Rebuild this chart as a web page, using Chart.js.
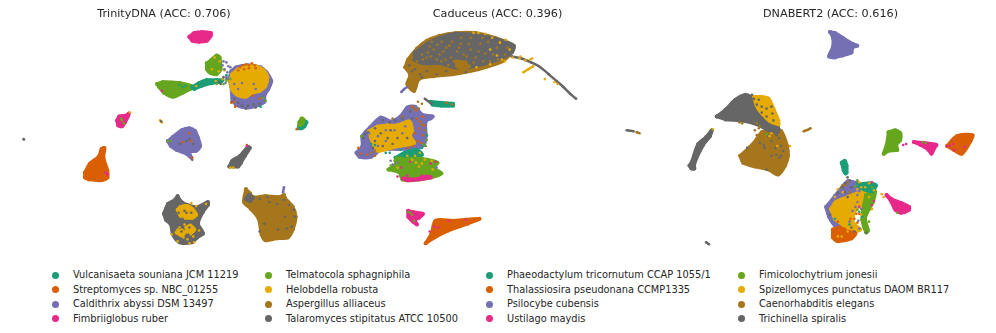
<!DOCTYPE html>
<html>
<head>
<meta charset="utf-8">
<script src="https://cdn.jsdelivr.net/npm/chart.js@4"></script>
<style>
html, body { margin: 0; padding: 0; background: #fff; }
body { position: relative; width: 996px; height: 333px; overflow: hidden; font-family: "DejaVu Sans", sans-serif; }
.panel { position: absolute; top: 0; height: 265px; }
.key { position: absolute; font-size: 9.8px; line-height: 14px; color: #262626; white-space: nowrap; }
.key i { position: absolute; width: 7px; height: 7px; border-radius: 50%; }
</style>
</head>
<body>
<div class="panel" style="left:0;width:328px"><canvas id="trinity"></canvas></div>
<div class="panel" style="left:332px;width:331px"><canvas id="caduceus"></canvas></div>
<div class="panel" style="left:665px;width:331px"><canvas id="dnabert"></canvas></div>
<div id="legend"></div>
<script>
const speciesNames = [
    "Vulcanisaeta souniana JCM 11219", "Streptomyces sp. NBC_01255", "Caldithrix abyssi DSM 13497", "Fimbriiglobus ruber",
    "Telmatocola sphagniphila", "Helobdella robusta", "Aspergillus alliaceus", "Talaromyces stipitatus ATCC 10500",
    "Phaeodactylum tricornutum CCAP 1055/1", "Thalassiosira pseudonana CCMP1335", "Psilocybe cubensis", "Ustilago maydis",
    "Fimicolochytrium jonesii", "Spizellomyces punctatus DAOM BR117", "Caenorhabditis elegans", "Trichinella spiralis"
];
const dark2 = ["#1b9e77", "#d95f02", "#7570b3", "#e7298a", "#66a61e", "#e6ab02", "#a6761d", "#666666"];
const TEAL = 0, ORANGE = 1, PURPLE = 2, PINK = 3, GREEN = 4, YELLOW = 5, BROWN = 6, GREY = 7;

// TrinityDNA: cluster outlines
const tPinkTop = [[190,37],[195,33],[203,32],[212,33],[212,36],[208,41],[200,42],[193,41]];
const tGreenUpper = [[208,64],[213,60],[218,56],[221,58],[222,66],[222,70],[218,75],[212,74],[208,70]];
const tGreenLeft = [[157,85],[163,83],[180,84],[192,87],[191,90],[183,94],[173,98],[164,94],[159,88]];
const tTealStrip = [[193,88],[200,84],[208,81],[218,81],[224,81],[222,83],[213,84],[202,87],[195,90]];
const tPurpleBig = [[233,72],[238,68],[250,66],[263,68],[269,73],[274,82],[271,90],[267,97],[267,103],[262,106],[250,109],[238,106],[234,100],[233,88],[231,80]];
const tYellowBig = [[234,75],[240,70],[250,67],[258,67],[266,71],[270,78],[268,87],[262,92],[254,94],[248,98],[239,96],[234,91],[232,82]];
const tPinkMid = [[116,122],[118,118],[125,117],[128,115],[127,118],[124,124],[121,128],[117,127]];
const tPurpleMid = [[168,143],[173,139],[182,132],[190,130],[196,133],[199,140],[201,148],[197,153],[190,154],[192,160],[187,156],[177,152],[171,148]];
const tTealRight = [[303,124],[305,122],[307,122],[310,124],[308,128],[305,130],[302,130]];
const tGreenRight = [[303,124],[305,120],[307,121],[306,125],[303,127]];
const tGreySmall = [[231,169],[234,163],[242,158],[250,149],[252,150],[247,158],[243,165],[240,169],[235,169]];
const tOrange = [[83,175],[88,166],[97,159],[100,151],[103,150],[102,160],[106,173],[106,180],[100,183],[87,182],[83,180]];
const tGreyBottom = [[164,217],[168,207],[175,203],[178,199],[181,204],[188,208],[198,210],[209,205],[209,208],[204,215],[199,227],[204,237],[198,241],[193,246],[180,246],[173,238],[171,228],[166,223]];
const tYellowUpper = [[178,213],[181,210],[188,209],[193,212],[197,218],[193,221],[186,221],[181,219]];
const tYellowLowerA = [[177,236],[182,234],[185,236],[182,239]];
const tYellowLowerB = [[187,231],[191,229],[195,233],[191,237],[188,235]];
const tBrown = [[248,192],[252,196],[255,200],[268,199],[282,200],[287,198],[288,201],[296,210],[299,220],[296,233],[291,241],[280,242],[268,244],[264,238],[261,222],[253,212],[246,205]];
const tGreyPatch = [[248,202],[251,198],[255,201],[252,204]];
const tPurpleTip = [[286,195],[287,190]];

const tOrangeDots = [[242,68],[245,66],[248,65],[251,66],[254,64],[257,66],[258,69],[251,69],[246,70],[240,71],[236,103],[255,97],[233,104],[262,100],[237,108],[190,135],[183,144],[192,143],[193,160],[300,131],[249,147]];
const tPurpleDots = [[225,62],[228,63],[230,67],[226,70],[224,66],[232,68],[229,73],[244,84],[256,85],[240,90],[236,85],[258,90],[228,78],[227,84]];
const tGreyDots = [[240,104],[244,107],[250,107],[256,106],[262,105],[265,98],[236,100],[233,103],[258,109],[248,110],[228,80],[225,78],[221,83],[222,85],[187,143],[190,141],[194,146],[180,146],[193,162],[187,216],[189,238],[190,231],[182,235],[183,222],[262,202],[270,200],[272,205],[280,207],[287,203],[292,208],[297,213],[298,220],[288,220],[267,227],[281,233],[290,232],[295,230],[262,235],[20,141],[20.5,141.5],[161,123],[185,214],[192,216],[179,216]];
const tGreenDots = [[265,99],[268,102],[232,80],[228,82],[225,85],[218,85],[121,122],[123,125],[120,120],[168,143],[171,143]];
const tTealDots = [[263,108],[180,86],[183,88],[186,87],[213,85],[228,76]];
const tYellowDots = [[216,58],[213,70],[220,72],[221,62],[226,71],[224,80],[217,82],[197,87],[129,114],[232,170],[235,170],[172,238],[178,245],[195,246],[190,247],[207,207],[160,122],[162,124],[192,206],[197,209],[185,228],[180,231],[184,241],[188,243],[178,233],[194,240],[200,234]];
const tPinkDots = [[105,176],[106,177],[104,175],[162,92],[249,148]];

// Caduceus
const cBrownBig = [[403,68],[406,60],[415,49],[425,41],[438,36],[455,33],[475,33],[495,38],[514,46],[512,53],[502,62],[478,70],[452,75],[432,77],[417,80],[412,92],[405,85],[408,76]];
const cGreyBig = [[413,53],[427,43],[438,38],[455,34],[475,35],[495,39],[514,46],[512,53],[498,60],[482,65],[458,69],[438,64],[422,64],[412,60]];
const cBrownPatchB = [[455,62],[462,63],[468,67],[458,69]];
const cGreyTail = [[512,57],[522,59],[532,63],[540,67],[550,75],[558,82],[565,88],[572,95],[578,100]];
const cYellowBranch = [[524,73],[529,70],[534,67]];
const cPurpleTip = [[399,93],[402,90],[405,88]];
const cTealStrip = [[429,103],[440,104],[452,105],[452,107],[440,107],[431,106]];
const cGreyStub = [[423,100],[430,105]];
const cPurpleMid = [[353,155],[359,148],[359,138],[367,129],[378,119],[388,123],[398,118],[405,109],[413,108],[420,116],[431,118],[429,120],[424,123],[424,138],[422,147],[412,151],[395,151],[378,152],[368,159],[356,159]];
const cYellowMid = [[366,133],[375,128],[385,127],[395,127],[407,123],[410,132],[408,138],[412,145],[398,148],[388,150],[375,153],[370,145],[368,140]];
const cTealMid = [[393,160],[402,155],[415,152],[420,157],[408,160],[395,163]];
const cGreenMid = [[386,172],[393,167],[394,161],[405,161],[420,161],[436,165],[432,170],[440,176],[430,180],[412,183],[400,182],[397,175]];
const cPinkEdge = [[401,181],[412,182],[425,179],[429,180],[417,182],[405,183]];
const cPinkLow = [[406,214],[410,215],[421,217],[417,221],[413,223],[415,228],[411,225],[406,220]];
const cOrangeLow = [[424,247],[430,237],[434,224],[453,224],[479,222],[467,227],[447,234],[433,241]];
const cGreyFar = [[630,132],[637,133]];
const cBrownFar = [[640,134],[643,135]];

const cBrownDots = [[420,55],[425,58],[432,50],[438,55],[445,48],[450,58],[456,52],[460,44],[465,62],[470,50],[475,58],[480,44],[485,54],[490,62],[497,48],[505,55],[500,42],[470,38],[440,62],[447,66],[455,67],[462,68],[430,42],[440,42],[415,62],[410,58],[418,68],[412,110],[417,110],[420,126],[423,132],[400,118],[368,155],[372,153],[390,120],[420,105],[416,103],[451,106],[426,53],[429,57],[435,60],[442,52],[448,46],[453,62],[458,48],[463,55],[468,44],[473,63],[478,52],[483,62],[488,42],[493,55],[498,60],[508,48],[428,47],[421,60],[436,45],[451,42],[444,60],[466,57],[482,38],[460,38]];
const cGreyDots = [[425,72],[435,75],[413,70],[418,75],[445,72],[465,73],[410,72],[407,66],[420,78],[380,122],[387,124],[372,130],[365,134],[360,140],[393,122],[400,120],[385,140],[378,135],[395,140],[370,150],[380,148],[390,146],[405,140],[388,132],[372,143],[410,120],[408,113],[362,136]];
const cYellowDots = [[473,33],[478,33],[485,34],[492,38],[500,43],[506,40],[510,50],[502,60],[497,56],[505,62],[490,50],[513,58],[520,59],[526,61],[531,60],[521,57],[533,59],[546,80],[556,83],[559,85],[476,68],[490,65],[414,165],[420,166],[417,169],[410,162],[431,172],[413,158],[405,158],[418,155],[423,162],[395,170],[430,163]];
const cOrangeDots = [[415,120],[418,123],[421,118],[422,127],[417,130],[421,137],[413,135],[416,143],[411,148],[406,150],[419,145],[357,156],[364,157],[372,158],[410,108],[414,112],[355,150],[445,104]];
const cTealDots = [[425,137],[422,147],[420,150],[400,156],[398,152],[383,155],[387,155],[403,159],[412,155],[372,147],[368,146]];
const cGreenDots = [[358,138],[425,142],[422,146],[424,148],[385,172],[388,168],[392,163],[408,216],[406,215],[410,218],[412,224]];
const cPurpleDots = [[375,138],[383,143],[392,132],[400,135],[383,132],[403,128],[375,148],[366,135],[388,163],[390,167],[395,165],[435,170]];
const cPinkDots = [[434,164],[429,166],[405,178],[408,164],[399,170],[395,179],[420,178],[433,230],[428,235],[437,231],[447,224],[465,223]];

// DNABERT2
const dPurpleTop = [[830,32],[835,33],[843,38],[853,44],[858,46],[853,48],[852,53],[843,56],[835,58],[829,57],[833,47],[833,38]];
const dBrown = [[738,158],[748,149],[755,141],[760,134],[772,132],[780,133],[786,148],[787,158],[784,168],[777,177],[767,172],[753,169],[741,165]];
const dYellow = [[747,98],[760,98],[767,100],[772,110],[777,122],[777,127],[770,130],[760,120],[752,110]];
const dGrey = [[714,118],[723,111],[733,101],[743,96],[748,98],[752,110],[760,120],[768,127],[777,130],[776,134],[767,132],[755,126],[738,122],[723,121]];
const dGreyThin = [[686,168],[688,165],[695,146],[703,139],[708,133],[709,132],[707,138],[700,147],[691,166],[691,171],[688,171]];
const dBrownStub = [[803,133],[806,132],[810,130]];
const dGreyTiny = [[703,246],[706,248]];
const dGreenBlob = [[890,134],[897,132],[902,135],[902,142],[898,147],[899,152],[890,153],[885,156],[888,147]];
const dPinkMid = [[916,144],[927,145],[939,147],[937,150],[934,156],[931,152],[923,147]];
const dOrangeRight = [[950,148],[960,138],[976,137],[974,143],[965,156],[957,152]];
const dTealTop = [[842,165],[845,163],[847,168],[847,175],[846,176],[844,173]];
const dPurpleLow = [[826,210],[835,199],[843,189],[848,184],[858,186],[866,190],[866,195],[855,205],[850,222],[855,232],[845,234],[835,229],[829,220]];
const dYellowLow = [[831,212],[836,205],[848,200],[867,193],[869,197],[863,207],[857,212],[853,222],[855,228],[861,233],[852,235],[843,228],[835,222]];
const dGreenStrip = [[867,198],[876,194],[874,205],[870,212],[866,222],[869,234],[867,236],[863,223],[864,212]];
const dTealPatch = [[859,187],[870,186],[877,188],[873,194],[862,191]];
const dPinkLow = [[888,198],[893,202],[903,206],[911,210],[911,213],[903,216],[897,213],[893,205]];
const dOrangeLow = [[833,233],[840,231],[845,234],[856,237],[852,242],[838,245],[833,241]];

const dGreyDots = [[745,97],[750,96],[752,100],[757,101],[760,108],[765,110],[771,115],[760,114],[765,118],[772,122],[755,106],[748,103],[770,108],[767,138],[770,143],[775,137],[778,140],[780,148],[774,150],[758,145],[762,147],[770,158],[775,157],[778,160],[780,158],[763,150],[745,150],[765,172],[782,153],[848,180],[846,186],[850,183],[843,190],[852,190],[848,200],[838,196],[845,195],[830,218],[855,235],[867,236],[852,231]];
const dBrownDots = [[737,124],[740,125],[755,125],[758,128],[753,132],[757,130],[755,137],[752,145],[848,185],[846,188],[843,188],[842,190],[850,195]];
const dYellowDots = [[770,135],[768,138],[776,148],[789,148],[710,131],[838,192],[843,195],[835,200],[838,208],[862,190],[860,185],[870,186],[875,193],[883,197],[885,200],[873,212],[866,190],[858,192],[856,204],[870,200],[862,218],[838,240],[842,240],[848,235]];
const dTealDots = [[858,186],[862,188],[866,186],[869,190],[872,188],[860,215],[863,220],[850,228],[835,222]];
const dGreenDots = [[765,136],[856,189],[858,183],[858,213],[873,190],[870,225],[899,216],[925,144],[928,145]];
const dOrangeDots = [[857,217],[860,217],[855,222],[858,226],[851,222],[845,232],[838,225]];
const dPurpleDots = [[856,210],[859,224],[862,212],[858,205],[860,232],[850,225],[853,214],[860,194],[858,198]];
const dPinkDots = [[873,185],[875,204],[873,208],[860,210],[905,147],[908,146],[950,148],[953,148],[956,146],[968,149],[957,152]];

function toXY(list) {
    return list.map(p => ({ x: p[0], y: p[1] }));
}

// closed filled cluster
function blob(color, list) {
    return {
        data: toXY(list.concat([list[0]])), showLine: true, fill: "shape", tension: 0.3,
        borderColor: dark2[color], backgroundColor: dark2[color], borderWidth: 3.5, borderJoinStyle: "round",
        pointRadius: 2, pointBackgroundColor: dark2[color], pointBorderWidth: 0, clip: false
    };
}

function streak(color, list) {
    return {
        data: toXY(list), showLine: true, fill: false, tension: 0.25,
        borderColor: dark2[color], backgroundColor: dark2[color], borderWidth: 2.5,
        pointRadius: 1.3, pointBackgroundColor: dark2[color], pointBorderWidth: 0, clip: false
    };
}

function dots(color, list) {
    return {
        data: toXY(list), showLine: false,
        pointRadius: 1.3, pointBackgroundColor: dark2[color], pointBorderWidth: 0, clip: false
    };
}

function drawPanel(id, title, left, width, sets) {
    // Chart.js paints the first dataset last, so flip to keep the listed stacking
    new Chart(document.getElementById(id), {
        type: "scatter",
        data: { datasets: sets.slice().reverse() },
        options: {
            responsive: true,
            maintainAspectRatio: false,
            animation: false,
            events: [],
            layout: { padding: 0 },
            plugins: {
                legend: { display: false },
                tooltip: { enabled: false },
                title: {
                    display: true, text: title, color: "#262626",
                    font: { family: "DejaVu Sans", size: 11.2, weight: "normal", lineHeight: 1.25 },
                    padding: { top: 7, bottom: 5 }
                }
            },
            scales: {
                x: { type: "linear", display: false, min: left, max: left + width },
                y: { type: "linear", display: false, reverse: true, min: 26, max: 265 }
            }
        }
    });
}

drawPanel("trinity", "TrinityDNA (ACC: 0.706)", 0, 328, [
    blob(PINK, tPinkTop), blob(PURPLE, tPurpleBig), blob(YELLOW, tYellowBig), blob(GREEN, tGreenUpper),
    blob(GREEN, tGreenLeft), blob(TEAL, tTealStrip), blob(PINK, tPinkMid), blob(PURPLE, tPurpleMid),
    blob(TEAL, tTealRight), blob(GREEN, tGreenRight), blob(GREY, tGreySmall), blob(ORANGE, tOrange),
    blob(GREY, tGreyBottom), blob(YELLOW, tYellowUpper), blob(YELLOW, tYellowLowerA), blob(YELLOW, tYellowLowerB), blob(BROWN, tBrown),
    blob(GREY, tGreyPatch), streak(PURPLE, tPurpleTip),
    dots(YELLOW, tYellowDots), dots(GREY, tGreyDots), dots(PURPLE, tPurpleDots), dots(ORANGE, tOrangeDots),
    dots(GREEN, tGreenDots), dots(TEAL, tTealDots), dots(PINK, tPinkDots)
]);

drawPanel("caduceus", "Caduceus (ACC: 0.396)", 332, 331, [
    blob(BROWN, cBrownBig), blob(GREY, cGreyBig), blob(BROWN, cBrownPatchB),
    streak(GREY, cGreyTail), streak(YELLOW, cYellowBranch), streak(PURPLE, cPurpleTip),
    blob(TEAL, cTealStrip), streak(GREY, cGreyStub), blob(PURPLE, cPurpleMid), blob(YELLOW, cYellowMid),
    blob(TEAL, cTealMid), blob(GREEN, cGreenMid), blob(PINK, cPinkEdge), blob(PINK, cPinkLow), blob(ORANGE, cOrangeLow),
    streak(GREY, cGreyFar), streak(BROWN, cBrownFar),
    dots(GREY, cGreyDots), dots(BROWN, cBrownDots), dots(PURPLE, cPurpleDots), dots(ORANGE, cOrangeDots),
    dots(TEAL, cTealDots), dots(GREEN, cGreenDots), dots(YELLOW, cYellowDots), dots(PINK, cPinkDots)
]);

drawPanel("dnabert", "DNABERT2 (ACC: 0.616)", 665, 331, [
    blob(PURPLE, dPurpleTop), blob(BROWN, dBrown), blob(YELLOW, dYellow), blob(GREY, dGrey), blob(GREY, dGreyThin),
    streak(BROWN, dBrownStub), streak(GREY, dGreyTiny), blob(GREEN, dGreenBlob), blob(PINK, dPinkMid),
    blob(ORANGE, dOrangeRight), blob(TEAL, dTealTop), blob(PURPLE, dPurpleLow), blob(YELLOW, dYellowLow),
    blob(GREEN, dGreenStrip), blob(TEAL, dTealPatch), blob(PINK, dPinkLow), blob(ORANGE, dOrangeLow),
    dots(BROWN, dBrownDots), dots(GREY, dGreyDots), dots(PURPLE, dPurpleDots), dots(TEAL, dTealDots),
    dots(GREEN, dGreenDots), dots(ORANGE, dOrangeDots), dots(YELLOW, dYellowDots), dots(PINK, dPinkDots)
]);

// legend: four columns, four rows, colours cycle through dark2
const legendColumns = [55, 268, 489, 741];
const legendRows = [275, 289.7, 304, 318.7];
const legendBox = document.getElementById("legend");
speciesNames.forEach((name, i) => {
    const row = i % 4, col = Math.floor(i / 4);
    const key = document.createElement("div");
    key.className = "key";
    key.style.left = (legendColumns[col] + 18) + "px";
    key.style.top = (legendRows[row] - 7) + "px";
    key.textContent = name;
    const mark = document.createElement("i");
    mark.style.left = "-21.5px";
    mark.style.top = "3.5px";
    mark.style.background = dark2[i % 8];
    key.appendChild(mark);
    legendBox.appendChild(key);
});
</script>
</body>
</html>
